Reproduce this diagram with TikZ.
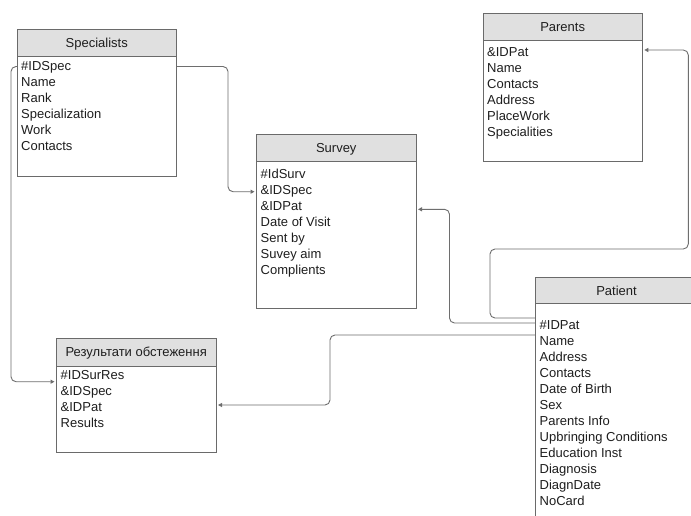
\documentclass[tikz,border=0pt]{standalone}
\usepackage{fontspec}
\setmainfont{Liberation Sans}
\usetikzlibrary{calc,arrows.meta}
\definecolor{bordc}{HTML}{6A6A6A}
\definecolor{headc}{HTML}{E0E0E0}
\definecolor{txtc}{HTML}{1E1E1E}
\definecolor{connc}{HTML}{6E6E6E}
\tikzset{
  bodybox/.style={draw=bordc, line width=0.9pt, fill=white, anchor=north west, inner sep=0pt, outer sep=0pt},
  headbox/.style={draw=bordc, line width=0.9pt, fill=headc, anchor=north west, inner sep=0pt, outer sep=0pt},
  ttext/.style={anchor=base, inner sep=0pt, text=txtc, font=\fontsize{13}{16}\selectfont},
  ftext/.style={anchor=base west, inner sep=0pt, text=txtc, font=\fontsize{13}{16}\selectfont},
  conn/.style={draw=connc, line width=0.9pt, rounded corners=5pt, -{Triangle[length=4pt,width=4pt]}, shorten >=2pt},
}
\newcommand\erbox[9]{%
  \node[bodybox, minimum width={#4-#2}, minimum height={#6-#3}] (#1) at (#2,#3) {};
  \node[headbox, minimum width={#4-#2}, minimum height={#5-#3}] (#1-h) at (#2,#3) {};
  \node[ttext] (#1-t) at ({(#2+#4)/2},{(#3+#5)/2+4.6}) {#7};
  \foreach \f [count=\i] in {#9} {\node[ftext] (#1-f\i) at ({#2+4},{#8+4.6+16*(\i-1)}) {\f};}
}
\begin{document}
\begin{tikzpicture}[x=1pt,y=-1pt]
\useasboundingbox (0,0) rectangle (691,516);
\clip (0,0) rectangle (691,516);
\fill[white] (0,0) rectangle (691,516);

\erbox{spec}{17}{29.5}{176.5}{56}{176.5}{Specialists}{66}{\#IDSpec,Name,Rank,Specialization,Work,Contacts}
\erbox{surv}{256.5}{134}{416}{161}{308}{Survey}{173.5}{\#IdSurv,\&IDSpec,\&IDPat,Date of Visit,Sent by,Suvey aim,Complients}
\erbox{par}{483}{13.5}{642.3}{40}{161}{Parents}{51.7}{\&IDPat,Name,Contacts,Address,PlaceWork,Specialities}
\erbox{res}{56.5}{338.5}{216}{366}{452.3}{Результати обстеження}{375}{\#IDSurRes,\&IDSpec,\&IDPat,Results}
\erbox{pat}{535.5}{277.5}{697.5}{303.5}{540}{Patient}{325}{\#IDPat,Name,Address,Contacts,Date of Birth,Sex,Parents Info,Upbringing Conditions,Education Inst,Diagnosis,DiagnDate,NoCard}

% connectors
\draw[conn] ($(spec.north east)+(0,37)$) -- ++(51.5,0) |- ($(surv.north west)+(0,57.7)$);
\draw[conn] ($(spec.north west)+(0,37)$) -- ++(-6,0) |- ($(res.north west)+(0,43.2)$);
\draw[conn] ($(pat.north west)+(0,45.5)$) -- ++(-86,0) |- ($(surv.north east)+(0,75.3)$);
\draw[conn] ($(pat.north west)+(0,40.5)$) -- ++(-45.5,0) |- ($(par.north east)+(46,235.5)$) |- ($(par.north east)+(0,36.5)$);
\draw[conn] ($(pat.north west)+(0,57.5)$) -- ++(-205.5,0) |- ($(res.north east)+(0,66.5)$);
\end{tikzpicture}
\end{document}
